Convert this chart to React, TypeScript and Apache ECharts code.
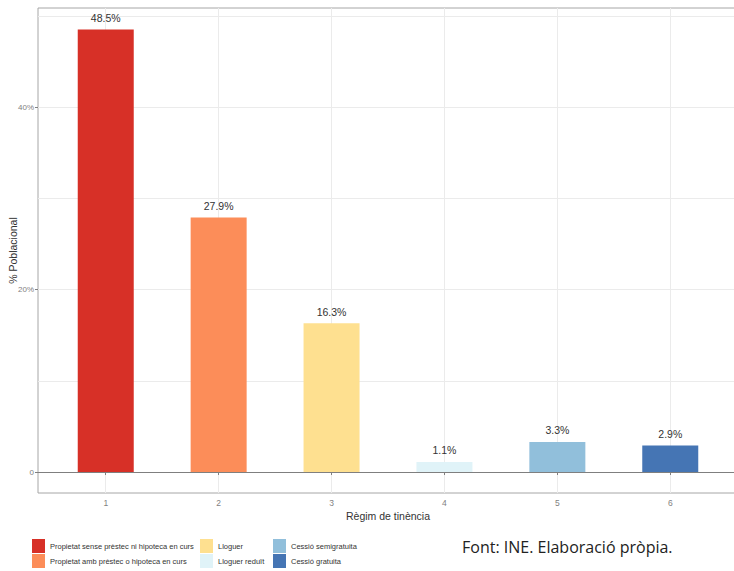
import React, { useEffect, useRef } from "react";
import * as echarts from "echarts";

const categories = [1, 2, 3, 4, 5, 6];
const values = [48.5, 27.9, 16.3, 1.1, 3.3, 2.9];
const names = [
  "Propietat sense prèstec ni hipoteca en curs",
  "Propietat amb prèstec o hipoteca en curs",
  "Lloguer",
  "Lloguer reduït",
  "Cessió semigratuita",
  "Cessió gratuita",
];
const colors = ["#D73027", "#FC8D59", "#FEE090", "#E0F3F8", "#91BFDB", "#4575B4"];
const yLabelTicks = [0, 20, 40];
const yGridTicks = [0, 10, 20, 30, 40, 50];

const FONT = "'Liberation Sans Narrow', 'Arial Narrow', 'Liberation Sans', sans-serif";

export default function App() {
  const ref = useRef<HTMLDivElement>(null);
  useEffect(() => {
    if (!ref.current) return;
    const chart = echarts.init(ref.current, null, { renderer: "svg" });
    const series = categories.map((c, i) => ({
      type: "bar",
      name: names[i],
      xAxisIndex: 0,
      yAxisIndex: 0,
      barWidth: 56,
      barGap: "-100%",
      data: [[c, values[i]]],
      itemStyle: { color: colors[i] },
      label: {
        show: true,
        position: "top",
        distance: 6,
        color: "#333",
        fontSize: 10.5,
        fontFamily: FONT,
        formatter: (p: any) => `${p.value[1]}%`,
      },
    }));
    const legendBase = {
      orient: "vertical",
      itemWidth: 13,
      itemHeight: 14,
      itemGap: 1,
      icon: "rect",
      textStyle: { fontSize: 7.5, color: "#333", fontFamily: FONT },
      padding: 0,
    };
    chart.setOption({
      animation: false,
      grid: {
        left: 38,
        top: 8,
        right: -4,
        bottom: 78,
        show: true,
        borderColor: "#a6a6a6",
        borderWidth: 1,
        outerBoundsMode: "none",
        containLabel: false,
      },
      xAxis: {
        type: "value",
        min: 0.4,
        max: 6.6,
        name: "Règim de tinència",
        nameLocation: "middle",
        nameGap: 17,
        nameMoveOverlap: false,
        nameTextStyle: { fontSize: 10.5, color: "#333", fontFamily: FONT },
        axisLine: { show: true, lineStyle: { color: "#7f7f7f", width: 1.2 } },
        axisTick: { show: true, length: 3, customValues: categories, lineStyle: { color: "#7f7f7f" } },
        axisLabel: { customValues: categories, fontSize: 8.5, color: "#7f7f7f", margin: 5, fontFamily: FONT },
        splitLine: { show: true, lineStyle: { color: "#ebebeb" } },
      },
      yAxis: [
        {
          type: "value",
          min: -2.3,
          max: 50.85,
          name: "% Poblacional",
          nameLocation: "middle",
          nameGap: 20,
          nameMoveOverlap: false,
          nameTextStyle: { fontSize: 10.5, color: "#333", fontFamily: FONT },
          axisLine: { show: false },
          axisTick: { show: true, length: 3, customValues: yLabelTicks, lineStyle: { color: "#7f7f7f" } },
          axisLabel: {
            customValues: yLabelTicks,
            fontSize: 8,
            color: "#7f7f7f",
            margin: 4,
            fontFamily: FONT,
            formatter: (v: number) => (v === 0 ? "0" : `${v}%`),
          },
          splitLine: { show: false },
        },
        {
          type: "value",
          min: -2.3,
          max: 50.85,
          position: "left",
          axisLine: { show: false },
          axisTick: { show: false, customValues: yGridTicks },
          axisLabel: { show: false, customValues: yGridTicks },
          splitLine: { show: true, lineStyle: { color: "#ebebeb" } },
        },
      ],
      legend: [
        { ...legendBase, left: 32, top: 539, data: [names[0], names[1]] },
        { ...legendBase, left: 200, top: 539, data: [names[2], names[3]] },
        { ...legendBase, left: 273, top: 539, data: [names[4], names[5]] },
      ],
      graphic: [
        {
          type: "text",
          left: 462,
          top: 539,
          style: {
            text: "Font: INE. Elaboració pròpia.",
            fontSize: 16,
            fontFamily: "'Open Sans', sans-serif",
            fill: "#222",
          },
        },
      ],
      series,
    });
    return () => chart.dispose();
  }, []);
  return <div ref={ref} style={{ width: 734, height: 571, position: "absolute", left: 0, top: 0 }} />;
}
